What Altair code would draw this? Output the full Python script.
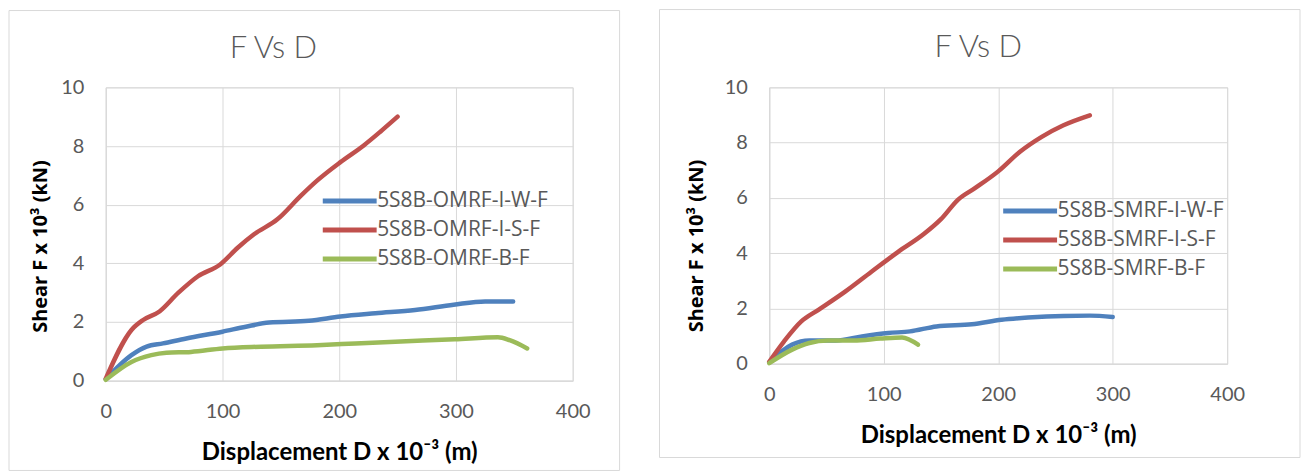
import altair as alt
import pandas as pd

# ---------------- data ----------------
x_ticks = [0, 100, 200, 300, 400]
y_ticks = [0, 2, 4, 6, 8, 10]

left_series = ["5S8B-OMRF-I-W-F", "5S8B-OMRF-I-S-F", "5S8B-OMRF-B-F"]
omrf_w_x = [0, 22, 35, 49, 69, 100, 120, 140, 174, 201, 231, 265, 298, 325, 349]
omrf_w_y = [0.05, 0.87, 1.16, 1.27, 1.44, 1.67, 1.84, 1.98, 2.04, 2.19, 2.30, 2.41, 2.59, 2.70, 2.70]
omrf_s_x = [0, 22, 32, 46, 62, 79, 98, 113, 127, 147, 167, 181, 201, 221, 235, 250]
omrf_s_y = [0.07, 1.73, 2.07, 2.36, 2.99, 3.56, 3.96, 4.53, 4.99, 5.50, 6.30, 6.82, 7.45, 8.02, 8.48, 9.00]
omrf_b_x = [0, 22, 39, 52, 73, 100, 133, 181, 214, 248, 299, 336, 346, 361]
omrf_b_y = [0.03, 0.64, 0.87, 0.95, 0.98, 1.10, 1.16, 1.21, 1.27, 1.33, 1.41, 1.48, 1.38, 1.10]

right_series = ["5S8B-SMRF-I-W-F", "5S8B-SMRF-I-S-F", "5S8B-SMRF-B-F"]
smrf_w_x = [0, 20, 35, 58, 81, 104, 123, 146, 177, 203, 226, 257, 280, 300]
smrf_w_y = [0.05, 0.69, 0.84, 0.84, 0.99, 1.11, 1.17, 1.35, 1.43, 1.59, 1.67, 1.73, 1.74, 1.69]
smrf_s_x = [0, 13, 28, 43, 66, 89, 112, 135, 150, 165, 180, 200, 219, 238, 257, 280]
smrf_s_y = [0.07, 0.81, 1.53, 1.95, 2.60, 3.32, 4.03, 4.69, 5.23, 5.94, 6.36, 6.96, 7.67, 8.21, 8.63, 8.99]
smrf_b_x = [0, 20, 35, 51, 74, 97, 116, 130]
smrf_b_y = [0.02, 0.51, 0.75, 0.84, 0.84, 0.91, 0.95, 0.69]

colors = ["#4F81BD", "#C0504D", "#9BBB59"]

x_title = "Displacement D x 10⁻³ (m)"
y_title = "Shear F x 10³  (kN)"
chart_title = "F Vs D"

FONT = "Lato"
GRID = "#D9D9D9"
TEXT = "#595959"


def frame(series, xs, ys):
    rows = []
    for name, xv, yv in zip(series, xs, ys):
        for a, b in zip(xv, yv):
            rows.append({"series": name, "D": a, "F": b})
    return pd.DataFrame(rows)


def panel(series, xs, ys, w, h, box, legend_xy, ytitle_x, ytitle_dy, title_dx):
    df = frame(series, xs, ys)
    axis_common = dict(ticks=False, labelFont=FONT, labelFontSize=20, labelColor=TEXT,
                       labelFlush=False, titleFontWeight="bold", titleColor="black",
                       gridColor=GRID, domainColor=GRID)
    lines = alt.Chart(df).mark_line(strokeWidth=4.5, interpolate="monotone",
                                    strokeCap="round").encode(
        x=alt.X("D:Q", scale=alt.Scale(domain=[0, 400], nice=False),
                axis=alt.Axis(values=x_ticks, title=x_title, labelPadding=21,
                              titleFont=FONT, titleFontSize=24,
                              titleY=72, titleBaseline="middle", **axis_common)),
        y=alt.Y("F:Q", scale=alt.Scale(domain=[0, 10], nice=False),
                axis=alt.Axis(values=y_ticks, title=y_title, labelPadding=22,
                              titleFont="Open Sans", titleFontSize=20,
                              titleX=ytitle_x, titleY=h / 2 + ytitle_dy,
                              titleBaseline="middle", titleAlign="center",
                              **axis_common)),
        color=alt.Color("series:N",
                        scale=alt.Scale(domain=series, range=colors),
                        legend=alt.Legend(title=None, orient="none",
                                          legendX=legend_xy[0], legendY=legend_xy[1],
                                          symbolType="M-1,0H3", symbolSize=729,
                                          symbolStrokeWidth=5, labelFontSize=21,
                                          labelColor=TEXT, labelFont="Open Sans",
                                          labelLimit=400,
                                          rowPadding=3, labelOffset=25)),
        detail="series:N",
    )
    boxdf = pd.DataFrame({"k": [0]})
    border = alt.Chart(boxdf).mark_rect(fill="transparent", stroke=GRID,
                                        strokeWidth=1).encode(
        x=alt.value(box[0]), x2=alt.value(box[1]),
        y=alt.value(box[2]), y2=alt.value(box[3]),
    )
    return alt.layer(border, lines).properties(
        width=w, height=h,
        title=alt.TitleParams(chart_title, fontSize=31, font=FONT, fontWeight=300,
                              color=TEXT, anchor="middle", frame="group",
                              offset=-55, dx=title_dx),
    )


left = panel(left_series, [omrf_w_x, omrf_s_x, omrf_b_x],
             [omrf_w_y, omrf_s_y, omrf_b_y],
             468, 294, (-97, 515, -77, 384), (215, 98), -65, 12, -66)
right = panel(right_series, [smrf_w_x, smrf_s_x, smrf_b_x],
              [smrf_w_y, smrf_s_y, smrf_b_y],
              459, 277, (-110, 532, -78, 371), (232, 108), -73, 20, -20)

chart = alt.hconcat(left, right, spacing=38).properties(padding=0).resolve_scale(
    color="independent").configure_view(stroke=GRID).configure(background="white")

chart.save("out.html", embed_options={"renderer": "svg", "actions": False})
